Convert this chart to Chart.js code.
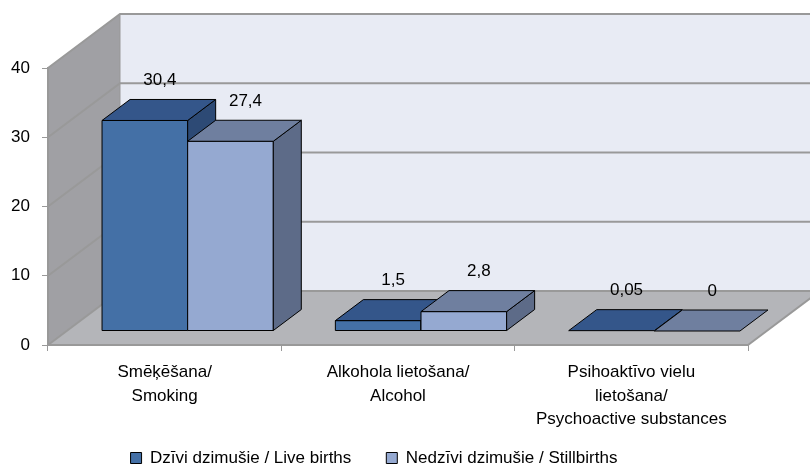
<!DOCTYPE html>
<html>
<head>
<meta charset="utf-8">
<script src="https://cdn.jsdelivr.net/npm/chart.js@4"></script>
<style>
  html, body { margin: 0; padding: 0; background: #fff; }
  #wrap { width: 810px; height: 470px; }
</style>
</head>
<body>
<div id="wrap"><canvas id="myChart"></canvas></div>
<script>
const categories = [
  ["Smēķēšana/", "Smoking"],
  ["Alkohola lietošana/", "Alcohol"],
  ["Psihoaktīvo vielu", "lietošana/", "Psychoactive substances"]
];
const liveBirths = [30.4, 1.5, 0.05];
const stillbirths = [27.4, 2.8, 0];
const seriesNames = ["Dzīvi dzimušie / Live births", "Nedzīvi dzimušie / Stillbirths"];
const yMin = 0, yMax = 40, yStep = 10;

// 3d look
const WALL_DX = 72, WALL_DY = -54;
const SHIFT_X = 23, SHIFT_Y = -14;
const BAR_DX = 28, BAR_DY = -21;
const FRONT = ["#4470a6", "#95a9d1"];
const TOP = ["#34568a", "#6f7f9f"];
const SIDE = ["#2d4a75", "#5d6b88"];
const FONT = "'Liberation Sans', Arial, sans-serif";

function poly(ctx, pts, fill, stroke) {
  ctx.beginPath();
  ctx.moveTo(pts[0][0], pts[0][1]);
  for (let i = 1; i < pts.length; i++) ctx.lineTo(pts[i][0], pts[i][1]);
  ctx.closePath();
  if (fill) { ctx.fillStyle = fill; ctx.fill(); }
  if (stroke) { ctx.strokeStyle = stroke; ctx.stroke(); }
}

const fmt = v => String(v).replace(".", ",");

const chart3d = {
  id: "chart3d",
  beforeDraw(chart) {
    const { ctx, chartArea: a, scales: { y } } = chart;
    ctx.save();
    // back wall
    ctx.fillStyle = "#e8ebf4";
    ctx.fillRect(a.left + WALL_DX, a.top + WALL_DY, chart.width, a.bottom - a.top);
    // left wall
    poly(ctx, [[a.left, a.top], [a.left + WALL_DX, a.top + WALL_DY],
      [a.left + WALL_DX, a.bottom + WALL_DY], [a.left, a.bottom]], "#a0a0a4");
    // floor
    poly(ctx, [[a.left, a.bottom], [a.right, a.bottom],
      [a.right + WALL_DX, a.bottom + WALL_DY], [a.left + WALL_DX, a.bottom + WALL_DY]], "#b4b5b9");
    // gridlines
    ctx.lineWidth = 2;
    ctx.strokeStyle = "#999999";
    y.ticks.forEach(t => {
      const py = y.getPixelForValue(t.value);
      ctx.beginPath();
      ctx.moveTo(a.left, py);
      ctx.lineTo(a.left + WALL_DX, py + WALL_DY);
      ctx.lineTo(chart.width, py + WALL_DY);
      ctx.stroke();
    });
    // floor right edge
    ctx.beginPath();
    ctx.moveTo(a.right, a.bottom);
    ctx.lineTo(a.right + WALL_DX, a.bottom + WALL_DY);
    ctx.stroke();
    // left wall back edge
    ctx.lineWidth = 1;
    ctx.beginPath();
    ctx.moveTo(a.left + WALL_DX, a.top + WALL_DY);
    ctx.lineTo(a.left + WALL_DX, a.bottom + WALL_DY);
    ctx.stroke();
    ctx.restore();
  },
  beforeDatasetDraw() {
    return false;
  },
  afterDatasetsDraw(chart) {
    const ctx = chart.ctx;
    const metas = chart.data.datasets.map((d, i) => chart.getDatasetMeta(i));
    ctx.save();
    ctx.lineWidth = 1;
    ctx.lineJoin = "round";
    const n = chart.data.labels.length;
    for (let i = 0; i < n; i++) {
      metas.forEach((meta, d) => {
        const bar = meta.data[i];
        const { x, y, base, width } = bar.getProps(["x", "y", "base", "width"], true);
        const l = x - width / 2 + SHIFT_X, r = x + width / 2 + SHIFT_X;
        const t = y + SHIFT_Y, b = base + SHIFT_Y;
        if (b - t > 0.5) poly(ctx, [[l, t], [r, t], [r, b], [l, b]], FRONT[d], "#000");
        if (b - t > 0.5) poly(ctx, [[r, t], [r + BAR_DX, t + BAR_DY], [r + BAR_DX, b + BAR_DY], [r, b]], SIDE[d], "#000");
        poly(ctx, [[l, t], [r, t], [r + BAR_DX, t + BAR_DY], [l + BAR_DX, t + BAR_DY]], TOP[d], "#000");
      });
    }
    // value labels
    ctx.fillStyle = "#000";
    ctx.font = "17px " + FONT;
    ctx.textAlign = "center";
    ctx.textBaseline = "middle";
    metas.forEach((meta, d) => {
      meta.data.forEach((bar, i) => {
        const { x, y } = bar.getProps(["x", "y"], true);
        const v = chart.data.datasets[d].data[i];
        ctx.fillText(fmt(v), x + SHIFT_X + 15, y + SHIFT_Y + BAR_DY - 19);
      });
    });
    ctx.restore();
  }
};

Chart.defaults.font.family = FONT;
Chart.defaults.font.size = 17;
Chart.defaults.color = "#000";

new Chart(document.getElementById("myChart"), {
  type: "bar",
  data: {
    labels: categories,
    datasets: [
      { label: seriesNames[0], data: liveBirths, backgroundColor: FRONT[0], borderColor: "#000", borderWidth: 1 },
      { label: seriesNames[1], data: stillbirths, backgroundColor: FRONT[1], borderColor: "#000", borderWidth: 1 }
    ]
  },
  options: {
    responsive: true,
    maintainAspectRatio: false,
    animation: false,
    layout: { padding: { top: 68, right: 62, left: 0, bottom: -6.5 } },
    datasets: { bar: { categoryPercentage: 0.734, barPercentage: 1 } },
    scales: {
      x: {
        grid: { drawOnChartArea: false, tickLength: 6, color: "#999", offset: true },
        border: { color: "#999", width: 2 },
        ticks: { padding: 10, font: { size: 17, lineHeight: 1.38 }, maxRotation: 0, autoSkip: false },
        afterFit(scale) {
          scale.height = 69.5;
          // let the three-line label run below the axis box
          scale._computeLabelArea = () => undefined;
        }
      },
      y: {
        min: yMin, max: yMax,
        grid: { drawOnChartArea: false, tickLength: 6, color: "#999" },
        border: { color: "#999", width: 2 },
        ticks: { stepSize: yStep, padding: 12, font: { size: 17 } },
        afterFit(scale) { scale.width = 48; }
      }
    },
    plugins: {
      legend: {
        position: "bottom",
        labels: { boxWidth: 11, boxHeight: 11, padding: 35, font: { size: 17 } }
      },
      tooltip: { enabled: false }
    }
  },
  plugins: [chart3d]
});
</script>
</body>
</html>
